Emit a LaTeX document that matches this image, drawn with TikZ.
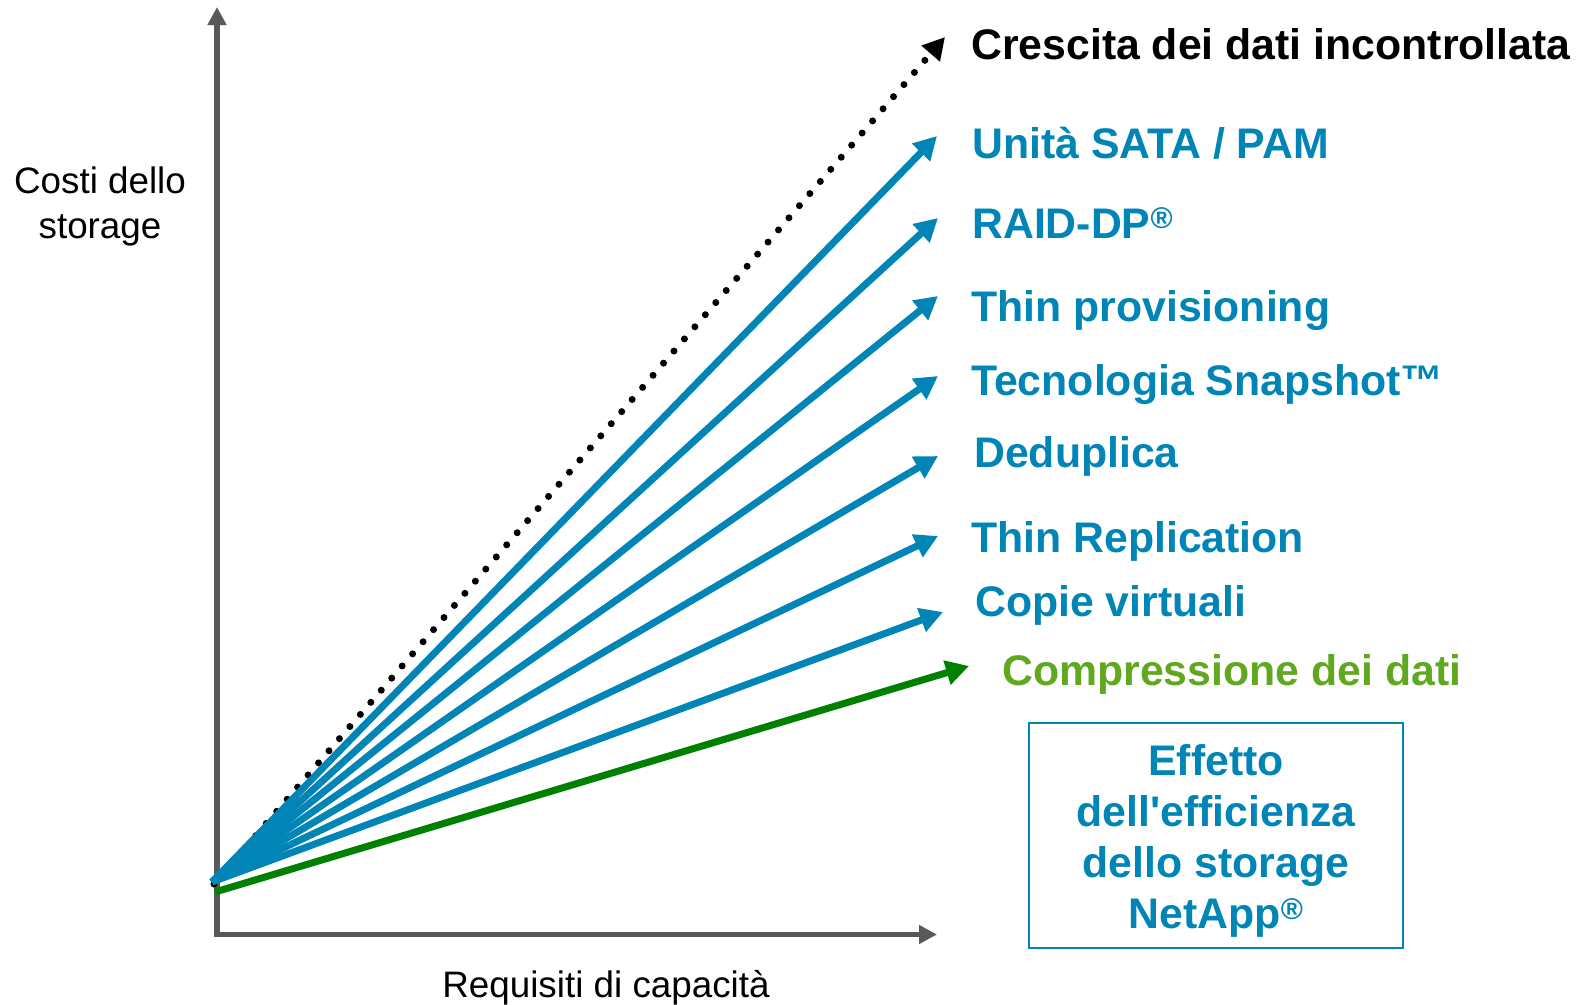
\documentclass[tikz,border=0pt]{standalone}
\usepackage{fontspec}
\setmainfont{Liberation Sans}[Ligatures=TeXOff]
\usetikzlibrary{arrows.meta}
\definecolor{nablue}{RGB}{0,133,182}
\definecolor{nagreen}{RGB}{0,128,0}
\definecolor{ltgreen}{RGB}{96,168,32}
\definecolor{axgray}{RGB}{89,89,89}
\begin{document}
\begin{tikzpicture}[x=1pt,y=-1pt,
  lbl/.style={anchor=base west, inner sep=0pt, font=\fontsize{42.8}{50}\selectfont\bfseries},
  tiptri/.tip={Triangle[length=23pt,width=24pt]},
  trend/.style={line width=7pt, nablue, -tiptri},
  axis/.style={line width=5.5pt, axgray, {Triangle[length=18pt,width=18pt]}-{Triangle[length=18pt,width=18pt]}},
  axlbl/.style={inner sep=0pt, font=\fontsize{36.8}{45}\selectfont, align=center}]
\useasboundingbox (0,0) rectangle (1578,1004);
% axes
\coordinate (ytip) at (217,7);
\coordinate (corner) at (217,934.5);
\coordinate (xtip) at (937,934.5);
\draw[axis] (ytip) -- (corner) -- (xtip);
% origins
\coordinate (O) at (212,882);
\coordinate (Od) at (214,884);
\coordinate (Og) at (215,892);
% tips
\coordinate (t0) at (945,37);
\coordinate (t1) at (937,136);
\coordinate (t2) at (938,218);
\coordinate (t3) at (938,296);
\coordinate (t4) at (938,376);
\coordinate (t5) at (938,456);
\coordinate (t6) at (938,536);
\coordinate (t7) at (943,612);
\coordinate (t8) at (969,666);
% dotted uncontrolled growth
\draw[line width=7pt, black, line cap=round, dash pattern=on 0pt off 16pt, -{Triangle[length=22pt,width=23pt]}] (Od) -- (t0);
% blue trends
\draw[trend] (O) -- (t1);
\draw[trend] (O) -- (t2);
\draw[trend] (O) -- (t3);
\draw[trend] (O) -- (t4);
\draw[trend] (O) -- (t5);
\draw[trend] (O) -- (t6);
\draw[trend] (O) -- (t7);
% green
\draw[line width=7pt, nagreen, -tiptri] (Og) -- (t8);
% labels
\node[lbl, text=black] (l0) at (971,59) {Crescita dei dati incontrollata};
\node[lbl, text=nablue] (l1) at (972,158) {Unità SATA / PAM};
\node[lbl, text=nablue] (l2) at (972,238) {RAID-DP\textsuperscript{®}};
\node[lbl, text=nablue] (l3) at (971,321) {Thin provisioning};
\node[lbl, text=nablue] (l4) at (971,395) {Tecnologia Snapshot™};
\node[lbl, text=nablue] (l5) at (974,467) {Deduplica};
\node[lbl, text=nablue] (l6) at (971,552) {Thin Replication};
\node[lbl, text=nablue] (l7) at (975,616) {Copie virtuali};
\node[lbl, text=ltgreen] (l8) at (1002,685) {Compressione dei dati};
% box
\node[draw=nablue, line width=2pt, minimum width=374pt, minimum height=225pt, inner sep=0pt] (box) at (1216,835.5) {};
\node[inner sep=0pt, align=center, text=nablue, font=\fontsize{42.8}{51}\selectfont\bfseries]
  (boxtxt) at ([yshift=-5pt]box.center)
  {Effetto\\dell'efficienza\\dello storage\\NetApp\textsuperscript{®}};
% axis labels
\node[axlbl] (ylab) at (100,206) {Costi dello\\storage};
\node[axlbl, anchor=base] (xlab) at (606,997) {Requisiti di capacità};
\end{tikzpicture}
\end{document}
